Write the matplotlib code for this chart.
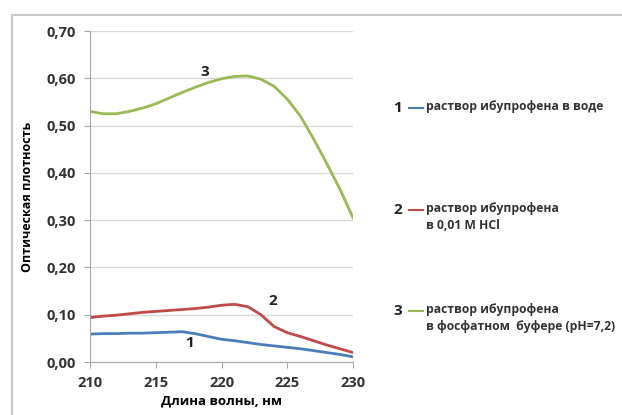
import numpy as np
import matplotlib.pyplot as plt
from matplotlib.patches import Rectangle

# --- data: optical density vs wavelength ---
wavelength = [210, 211, 212, 213, 214, 215, 216, 217, 218, 219, 220,
              221, 222, 223, 224, 225, 226, 227, 228, 229, 230]
water = [0.059, 0.060, 0.060, 0.061, 0.061, 0.062, 0.063, 0.064, 0.060, 0.054, 0.048,
         0.045, 0.041, 0.037, 0.034, 0.031, 0.028, 0.024, 0.020, 0.016, 0.011]
hcl = [0.094, 0.097, 0.099, 0.102, 0.105, 0.107, 0.109, 0.111, 0.113, 0.116, 0.120,
       0.122, 0.117, 0.100, 0.075, 0.062, 0.054, 0.045, 0.036, 0.028, 0.020]
buffer = [0.530, 0.525, 0.525, 0.530, 0.537, 0.546, 0.558, 0.570, 0.581, 0.591, 0.599,
          0.604, 0.605, 0.598, 0.583, 0.556, 0.520, 0.472, 0.420, 0.366, 0.305]

labels = ["раствор ибупрофена в воде",
          "раствор ибупрофена\nв 0,01 М HCl",
          "раствор ибупрофена\nв фосфатном  буфере (pH=7,2)"]
colors = ["#4A7EBB", "#BE4B48", "#98B954"]
yticks = [0.0, 0.1, 0.2, 0.3, 0.4, 0.5, 0.6, 0.7]
xticks = [210, 215, 220, 225, 230]

plt.rcParams['font.family'] = ['Open Sans', 'DejaVu Sans']
plt.rcParams['font.weight'] = 'bold'
plt.rcParams['axes.labelweight'] = 'bold'
text_col = "#333333"

fig = plt.figure(figsize=(6.22, 4.15), dpi=100)
fig.patch.set_facecolor("white")

# outer chart frame
fig.patches.append(Rectangle((12 / 622, -0.02), 0.99, 1 - 15 / 415 + 0.02,
                             transform=fig.transFigure, fill=False,
                             edgecolor="#C8C8C8", linewidth=1.5))

ax = fig.add_axes([90 / 622, 1 - 362 / 415, 263 / 622, 331 / 415])
for y, c in zip([water, hcl, buffer], colors):
    ax.plot(wavelength, y, color=c, linewidth=2, solid_joinstyle="round")

ax.set_xlim(210, 230)
ax.set_ylim(0, 0.7)
ax.set_yticks(yticks)
ax.set_yticklabels([f"{v:.2f}".replace(".", ",") for v in yticks])
ax.set_xticks(xticks)
ax.grid(axis="y", color="#D9D9D9", linewidth=1)
ax.set_axisbelow(True)
for s in ["top", "right"]:
    ax.spines[s].set_visible(False)
for s in ["left", "bottom"]:
    ax.spines[s].set_color("#A6A6A6")
ax.tick_params(colors="#A6A6A6", length=4, labelcolor=text_col, labelsize=10.5)
ax.tick_params(axis="y", pad=6)
ax.tick_params(axis="x", pad=6)

ax.set_xlabel("Длина волны, нм", fontsize=9.5, color="black", labelpad=3)
ax.set_ylabel("Оптическая плотность", fontsize=9, color="black", labelpad=9)

# curve numbers
ax.text(218.7, 0.613, "3", fontsize=11, ha="center", va="center", color="#222222")
ax.text(223.9, 0.130, "2", fontsize=11, ha="center", va="center", color="#222222")
ax.text(217.6, 0.040, "1", fontsize=11, ha="center", va="center", color="#222222")

# legend drawn by hand on the right
legend_y = [108, 210, 311]
for i, (ly, c, lab) in enumerate(zip(legend_y, colors, labels)):
    yf = 1 - ly / 415
    fig.text(398 / 622, yf, str(i + 1), fontsize=11,
             ha="center", va="center", color="#222222")
    fig.add_artist(plt.Line2D([409 / 622, 423 / 622], [yf, yf], color=c, linewidth=1.5))
    fig.text(426 / 622, yf + 8 / 415, lab, fontsize=8.7, ha="left", va="top",
             color=text_col, linespacing=1.4)

fig.savefig("out.png", dpi=100)
